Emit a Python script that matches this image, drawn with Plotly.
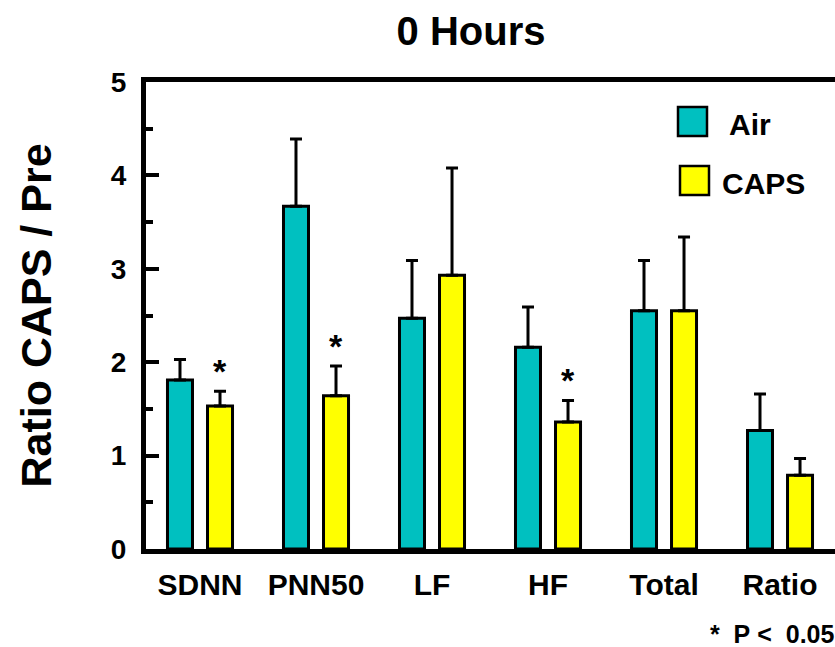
import plotly.graph_objects as go

categories = ["SDNN", "PNN50", "LF", "HF", "Total", "Ratio"]
air = [1.81, 3.67, 2.47, 2.16, 2.55, 1.27]
air_err = [0.22, 0.72, 0.62, 0.43, 0.54, 0.39]
caps = [1.53, 1.64, 2.93, 1.36, 2.55, 0.79]
caps_err = [0.16, 0.32, 1.15, 0.23, 0.79, 0.18]
significant = [True, True, False, True, False, False]  # CAPS vs Air, P < 0.05
y_ticks = [0, 1, 2, 3, 4, 5]

W, H = 835, 647
ML, MR, MT, MB = 146, 0, 82, 98
PW, PH = W - ML - MR, H - MT - MB
FONT = "Liberation Sans, Arial, sans-serif"
TEAL = "#00C0C0"
YELLOW = "#FFFF00"


def px_x(p):
    return (p - ML) / PW


def px_y(p):
    return (H - MB - p) / PH


def bold(size):
    return dict(family=FONT, size=size, color="black", weight="bold")


fig = go.Figure()
fig.add_trace(go.Bar(
    name="Air", x=categories, y=air,
    marker=dict(color=TEAL, line=dict(color="black", width=3)),
    error_y=dict(type="data", array=air_err, arrayminus=[0] * len(air), symmetric=False,
                 color="black", thickness=3, width=6),
))
fig.add_trace(go.Bar(
    name="CAPS", x=categories, y=caps,
    marker=dict(color=YELLOW, line=dict(color="black", width=3)),
    error_y=dict(type="data", array=caps_err, arrayminus=[0] * len(caps), symmetric=False,
                 color="black", thickness=3, width=6),
))

annotations = []
for c, v, e, s in zip(categories, caps, caps_err, significant):
    if s:
        annotations.append(dict(
            x=c, y=v + e, xref="x", yref="y", text="*", showarrow=False,
            xshift=20, yshift=-1, yanchor="bottom",
            font=bold(34),
        ))

# y-axis title
annotations.append(dict(
    x=px_x(35), y=0.5, xref="paper", yref="paper", text="Ratio CAPS / Pre",
    textangle=-90, showarrow=False, xanchor="center", yanchor="middle",
    font=bold(43),
))
# footnote
annotations.append(dict(
    x=px_x(708), y=px_y(634), xref="paper", yref="paper",
    text="*\u00a0\u00a0P\u00a0&lt;\u00a0\u00a00.05",
    showarrow=False, xanchor="left", yanchor="middle",
    font=bold(25),
))

# legend (drawn manually to get large swatches)
shapes = []
legend_items = [("Air", TEAL, 678, 107, 727, 124), ("CAPS", YELLOW, 680, 166, 720, 183)]
for label, col, bx, by, tx, ty in legend_items:
    shapes.append(dict(
        type="rect", xref="paper", yref="paper",
        x0=px_x(bx), x1=px_x(bx + 29), y0=px_y(by + 29), y1=px_y(by),
        fillcolor=col, line=dict(color="black", width=2.5),
    ))
    annotations.append(dict(
        x=px_x(tx), y=px_y(ty), xref="paper", yref="paper", text=label,
        showarrow=False, xanchor="left", yanchor="middle",
        font=bold(30),
    ))

fig.update_layout(
    width=W, height=H,
    margin=dict(l=ML, r=MR, t=MT, b=MB),
    paper_bgcolor="white", plot_bgcolor="white",
    showlegend=False,
    barmode="group", bargap=0.31, bargroupgap=0.375,
    title=dict(text="0 Hours", x=471 / W, xref="container", xanchor="center",
               y=1 - 31 / H, yref="container", yanchor="middle",
               font=bold(40)),
    xaxis=dict(
        range=[-0.4655, 5.474], showline=True, linecolor="black", linewidth=5,
        mirror=True, ticks="", showgrid=False, zeroline=False,
        tickfont=bold(30),
        ticklabelstandoff=5,
    ),
    yaxis=dict(
        range=[0, 5], tickvals=y_ticks, showline=True, linecolor="black", linewidth=5,
        ticks="inside", ticklen=13, tickwidth=4, tickcolor="black",
        minor=dict(dtick=0.5, ticks="inside", ticklen=7, tickwidth=4, tickcolor="black"),
        showgrid=False, zeroline=False,
        tickfont=bold(28),
        ticklabelstandoff=9,
    ),
    annotations=annotations,
    shapes=shapes,
)

fig.write_html("out.html")
